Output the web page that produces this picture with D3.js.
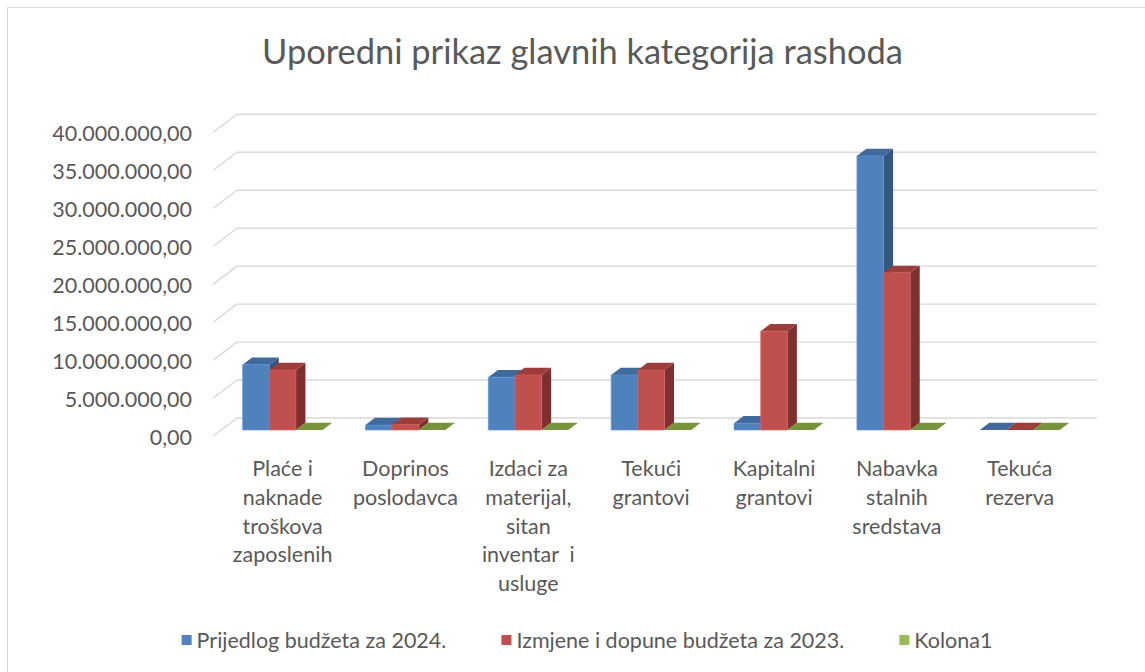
<!DOCTYPE html>
<html><head><meta charset="utf-8">
<script src="https://cdn.jsdelivr.net/npm/d3@7"></script>
<style>
body{margin:0;background:#fff}
svg text{font-family:Lato,"Open Sans",sans-serif;fill:#595959;white-space:pre}
</style>
</head><body>
<svg id="chart" width="1145" height="672"></svg>
<script>
// ---- data ----
const categories = [
  "Plaće i\nnaknade\ntroškova\nzaposlenih",
  "Doprinos\nposlodavca",
  "Izdaci za\nmaterijal,\nsitan\ninventar  i\nusluge",
  "Tekući\ngrantovi",
  "Kapitalni\ngrantovi",
  "Nabavka\nstalnih\nsredstava",
  "Tekuća\nrezerva"
];
const seriesNames = ["Prijedlog budžeta za 2024.", "Izmjene i dopune budžeta za 2023.", "Kolona1"];
const prijedlog2024 = [8600000, 650000, 6950000, 7250000, 900000, 36100000, 0];
const izmjene2023   = [7900000, 700000, 7250000, 7900000, 13000000, 20700000, 0];
const kolona1       = [0, 0, 0, 0, 0, 0, 0];
const yTicks = [0, 5000000, 10000000, 15000000, 20000000, 25000000, 30000000, 35000000, 40000000];
const chartTitle = "Uporedni prikaz glavnih kategorija rashoda";

// ---- styles ----
const palette = [
  {front:"#4f81bd", top:"#41699b", side:"#34567f"},
  {front:"#c0504d", top:"#9a3d3b", side:"#7d302e"},
  {front:"#9bbb59", top:"#77933c", side:"#5f7530"}
];
const seriesValues = [prijedlog2024, izmjene2023, kolona1];
const FS = 21.5;

const svg = d3.select("#chart");
const W = 1145, H = 672;

// frame
svg.append("rect").attr("x",7.5).attr("y",7.5).attr("width",W+20).attr("height",H+20)
  .attr("fill","#fff").attr("stroke","#d9d9d9").attr("stroke-width",1);

// scales (back wall coordinates)
const y = d3.scaleLinear().domain([0, 40000000]).range([418, 114.3]);
const x = d3.scaleBand().domain(d3.range(categories.length)).range([237, 1097]);
const groupW = 80;
const xs = d3.scaleBand().domain(seriesNames).range([0, groupW]);
const DX = -23.7, DY = 18;          // full depth offset (back wall -> front edge)
const zFront = 0.667, zBack = 0.267; // bar depth placement
const P = (px, py, z) => [px + DX*z, py + DY*z];

const loc = d3.formatLocale({decimal:",", thousands:".", grouping:[3], currency:["",""]});
const fmt = loc.format(",.2f");

// gridlines on back wall + left wall diagonals
const grid = svg.append("g").attr("stroke","#d9d9d9").attr("stroke-width",1.4).attr("fill","none");
yTicks.forEach(v => {
  const yy = y(v);
  grid.append("line").attr("x1",x.range()[0]).attr("x2",x.range()[1]).attr("y1",yy).attr("y2",yy);
  const a = P(x.range()[0], yy, 0), b = P(x.range()[0], yy, 1);
  grid.append("line").attr("x1",a[0]).attr("y1",a[1]).attr("x2",b[0]).attr("y2",b[1]);
});

// y-axis labels
svg.append("g").selectAll("text").data(yTicks).join("text")
  .attr("x", 192).attr("y", d => y(d) + DY + 1)
  .attr("text-anchor","end").attr("dominant-baseline","central")
  .attr("font-size", FS).text(d => fmt(d));

// bars
const bars = svg.append("g");
const poly = pts => pts.map(p => p.join(",")).join(" ");
categories.forEach((c, i) => {
  seriesNames.forEach((s, j) => {
    const v = seriesValues[j][i];
    const x0 = x(i) + (x.bandwidth() - groupW)/2 + xs(s);
    const x1 = x0 + xs.bandwidth();
    const yt = y(v), yb = y(0);
    const col = palette[j];
    bars.append("polygon").attr("fill", col.side).attr("points", poly([
      P(x1, yb, zFront), P(x1, yb, zBack), P(x1, yt, zBack), P(x1, yt, zFront)]));
    bars.append("polygon").attr("fill", col.top).attr("points", poly([
      P(x0, yt, zFront), P(x1, yt, zFront), P(x1, yt, zBack), P(x0, yt, zBack)]));
    if (v > 0) {
      bars.append("polygon").attr("fill", col.front)
        .attr("stroke", d3.color(col.front).brighter(0.4)).attr("stroke-width",0.6)
        .attr("points", poly([
        P(x0, yb, zFront), P(x1, yb, zFront), P(x1, yt, zFront), P(x0, yt, zFront)]));
    }
  });
});

// category labels
const catG = svg.append("g");
categories.forEach((c, i) => {
  const cx = P(x(i) + x.bandwidth()/2, 0, zFront)[0];
  const t = catG.append("text").attr("text-anchor","middle").attr("font-size",FS);
  c.split("\n").forEach((line, k) => {
    t.append("tspan").attr("x", cx).attr("y", 468 + k*28.8)
      .attr("dominant-baseline","central").text(line);
  });
});

// title (fit to reference width)
const title = svg.append("text").attr("x", 582.5).attr("y", 64)
  .attr("text-anchor","middle").attr("font-size",30).attr("font-weight",400).text(chartTitle);
const tw = title.node().getComputedTextLength();
title.attr("font-size", 30 * 641 / tw);

// legend
const leg = svg.append("g");
let lx = 0;
seriesNames.forEach((s, j) => {
  const g = leg.append("g").attr("transform", `translate(${lx},0)`);
  g.append("rect").attr("x",0).attr("y",-5).attr("width",10).attr("height",10).attr("fill", palette[j].front);
  const t = g.append("text").attr("x",15).attr("y",0).attr("dominant-baseline","central")
    .attr("font-size",FS).text(s);
  const w = t.node().getComputedTextLength();
  lx += 15 + w + 55;
});
const legW = lx - 55;
leg.attr("transform", `translate(${587 - legW/2},640)`);
</script>
</body></html>
